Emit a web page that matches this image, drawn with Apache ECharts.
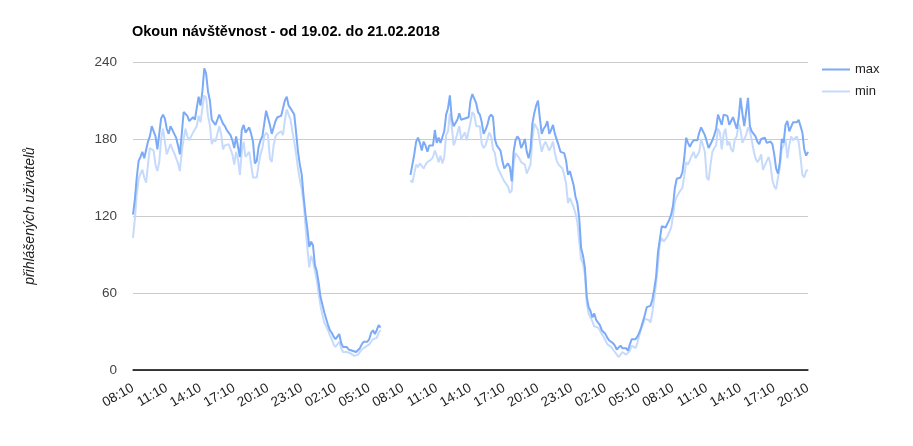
<!DOCTYPE html>
<html>
<head>
<meta charset="utf-8">
<script src="https://cdn.jsdelivr.net/npm/echarts@6/dist/echarts.min.js"></script>
<style>
html,body{margin:0;padding:0;background:#fff;}
#c{width:913px;height:446px;}
</style>
</head>
<body>
<div id="c"></div>
<script>
// Time axis: every 10 minutes starting 19.02. 08:10, 361 slots
const startTime = '08:10';
const stepMinutes = 10;
const slotCount = 361;
const tickLabels = ['08:10','11:10','14:10','17:10','20:10','23:10','02:10','05:10','08:10','11:10','14:10','17:10','20:10','23:10','02:10','05:10','08:10','11:10','14:10','17:10','20:10'];
const gapLength = 15; // missing data 06:20 - 08:40

const maxPart1 = [121,133,150,163,166,170,165,165,178,182,
 190,189,182,172,172,196,199,196,188,184,
 190,187,184,181,175,168,184,201,200,198,
 194,195,197,195,204,213,206,217,235,231,
 217,210,195,193,191,195,199,198,192,190,
 187,185,183,179,173,182,181,166,187,191,
 185,184,189,184,178,161,163,174,179,182,
 192,202,201,191,184,189,194,197,197,198,
 199,210,213,206,204,204,199,185,170,160,
 152,135,121,110,96,100,97,82,77,68,
 57,51,45,40,35,31,29,26,24,25,
 28,21,18,18,18,16,17,15,14,14,
 14,17,20,22,23,22,24,29,31,28,
 31,35,33];
const maxPart2 = [152,160,168,178,181,177,171,178,175,170,
 175,176,175,187,177,181,177,176,186,199,
 204,214,196,190,190,195,200,195,196,196,
 196,
 197,210,215,214,208,201,199,193,184,187,
 191,197,199,197,180,175,174,171,163,157,
 159,161,158,147,170,179,182,180,173,176,
 180,170,165,172,192,200,206,210,196,184,
 188,190,194,184,187,191,184,183,175,170,
 171,169,163,152,155,154,144,135,130,118,
 95,89,80,57,49,46,41,44,39,37,
 35,31,30,28,25,23,22,21,19,16,
 17,19,17,18,17,15,20,24,25,24,
 26,29,33,38,43,49,50,50,55,63,
 73,92,102,112,112,111,112,117,121,128,
 142,149,149,150,154,165,181,177,174,177,
 179,180,179,185,189,188,183,178,173,173,
 179,183,188,199,195,191,199,200,198,191,
 194,197,197,188,196,212,200,190,189,212,
 190,186,184,182,178,176,180,181,181,177,
 177,178,176,168,157,153,162,180,177,191,
 194,186,185,193,193,193,195,195,185,172,
 167,170];

const minPart1 = [103,118,137,149,153,156,150,146,160,173,
 174,171,160,155,162,180,188,178,168,168,
 176,172,169,168,161,155,170,180,188,182,
 179,178,185,186,190,198,193,204,214,212,
 198,191,176,180,178,179,190,184,172,175,
 174,176,172,168,160,170,164,152,170,178,
 166,166,170,169,150,150,150,160,168,173,
 182,185,183,165,162,175,182,184,185,186,
 183,195,203,199,195,186,178,168,157,148,
 141,130,112,95,80,89,85,77,70,60,
 50,43,37,34,31,27,24,20,18,19,
 22,17,14,15,14,14,13,12,11,11,
 12,14,16,17,18,19,20,22,24,25,
 25,29,31];
const minPart2 = [148,146,153,160,158,161,160,157,160,162,
 163,164,166,171,167,162,167,161,166,183,
 186,200,190,175,179,180,190,180,181,185,
 179,
 179,193,201,199,190,190,190,176,173,175,
 180,185,182,172,169,160,156,156,150,147,
 145,143,138,140,160,169,169,165,162,162,
 160,153,153,160,180,192,192,187,178,170,
 175,178,178,171,174,178,169,163,160,160,
 157,152,145,130,134,134,127,122,115,100,
 86,83,74,52,44,43,38,34,35,33,
 31,28,26,23,20,19,18,16,14,13,
 10,12,14,13,12,12,15,19,19,17,
 21,27,32,36,40,40,39,37,45,56,
 68,82,99,103,100,101,104,105,111,120,
 131,135,136,140,142,151,162,160,161,167,
 170,165,164,170,180,179,170,150,148,160,
 170,173,175,188,185,172,184,188,175,178,
 172,170,180,182,192,187,177,180,183,189,
 186,179,171,165,162,164,168,156,155,163,
 166,160,148,143,141,150,158,172,175,180,
 165,175,182,179,179,182,178,166,152,150,
 155,156];

// build category labels
const categories = [];
{
  const [h0, m0] = startTime.split(':').map(Number);
  for (let i = 0; i < slotCount; i++) {
    const t = (h0 * 60 + m0 + i * stepMinutes) % (24 * 60);
    const hh = String(Math.floor(t / 60)).padStart(2, '0');
    const mm = String(t % 60).padStart(2, '0');
    categories.push(hh + ':' + mm);
  }
}
const gap = new Array(gapLength).fill(null);
const maxData = maxPart1.concat(gap, maxPart2);
const minData = minPart1.concat(gap, minPart2);
const labelEvery = (slotCount - 1) / (tickLabels.length - 1);

const FONT = 'Arial, "Liberation Sans", sans-serif';
const chart = echarts.init(document.getElementById('c'), null, {renderer: 'canvas'});
chart.setOption({
  animation: false,
  backgroundColor: '#fff',
  textStyle: {fontFamily: FONT},
  title: {
    text: 'Okoun návštěvnost - od 19.02. do 21.02.2018',
    left: 132, top: 24, padding: 0,
    textStyle: {fontFamily: FONT, fontSize: 14.5, fontWeight: 'bold', color: '#000'}
  },
  legend: {
    orient: 'vertical',
    left: 822, top: 63, padding: 0,
    icon: 'rect',
    itemWidth: 28, itemHeight: 2,
    itemGap: 9,
    textStyle: {fontFamily: FONT, fontSize: 13, color: '#222'},
    data: ['max', 'min']
  },
  grid: {left: 133, right: 105, top: 62, bottom: 76, containLabel: false},
  xAxis: {
    type: 'category',
    data: categories,
    boundaryGap: false,
    axisLine: {show: true, lineStyle: {color: '#333', width: 1.5}},
    axisTick: {show: false},
    axisLabel: {
      interval: function (idx) { return idx % labelEvery === 0; },
      formatter: function (v, idx) { return tickLabels[Math.round(idx / labelEvery)] || v; },
      rotate: 30,
      margin: 17,
      fontFamily: FONT, fontSize: 13.5, color: '#222'
    },
    splitLine: {show: false}
  },
  yAxis: {
    type: 'value',
    min: 0, max: 240, interval: 60,
    name: 'přihlášených uživatelů',
    nameLocation: 'middle',
    nameGap: 96,
    nameRotate: 90,
    nameTextStyle: {fontFamily: FONT, fontSize: 14, fontStyle: 'italic', color: '#222'},
    axisLine: {show: false},
    axisTick: {show: false},
    axisLabel: {margin: 16, fontFamily: FONT, fontSize: 13.5, color: '#444'},
    splitLine: {lineStyle: {color: ['#333', '#ccc', '#ccc', '#ccc', '#ccc'], width: 1}}
  },
  series: [
    {
      name: 'max', type: 'line', data: maxData,
      showSymbol: false, symbol: 'none', connectNulls: false,
      lineStyle: {color: '#7BAAF7', width: 2},
      itemStyle: {color: '#7BAAF7'},
      z: 3,
      markLine: {
        silent: true, symbol: 'none', animation: false,
        label: {show: false},
        lineStyle: {color: '#333', width: 1.5, type: 'solid'},
        data: [{yAxis: 0}]
      }
    },
    {
      name: 'min', type: 'line', data: minData,
      showSymbol: false, symbol: 'none', connectNulls: false,
      lineStyle: {color: '#C6DAFC', width: 2},
      itemStyle: {color: '#C6DAFC'},
      z: 2
    }
  ]
});
</script>
</body>
</html>
